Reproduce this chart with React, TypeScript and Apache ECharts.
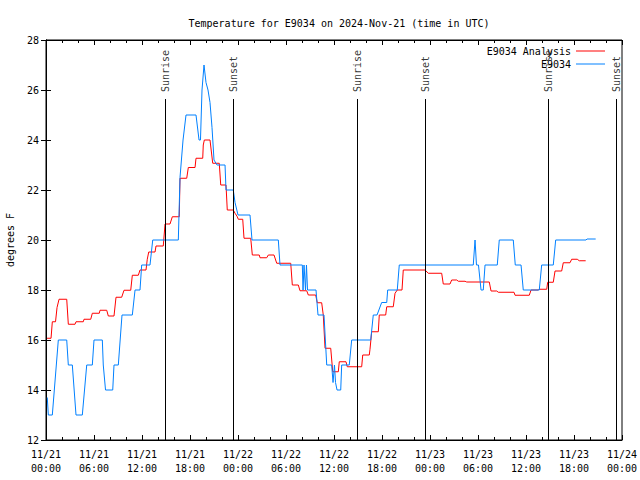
import React, { useEffect, useRef } from "react";
import * as echarts from "echarts";

// Hours since 2024-11-21 00:00 UTC
const obsHours = [0.16, 0.29, 0.79, 1.54, 2.59, 2.79, 3.29, 3.75, 4.54, 5.09, 5.79, 6.0, 7.04, 7.16, 7.44, 8.34, 8.5, 9.04, 9.5, 10.79, 11.13, 11.75, 11.96, 13.0, 13.34, 16.54, 16.75, 17.13, 17.5, 18.75, 19.13, 19.31, 19.5, 19.75, 20.0, 20.25, 20.5, 20.75, 21.0, 21.38, 22.38, 22.5, 23.41, 23.63, 24.0, 25.5, 25.75, 29.04, 29.25, 32.04, 32.13, 32.25, 32.44, 32.56, 32.69, 33.75, 34.0, 34.75, 35.09, 35.71, 35.88, 36.06, 36.19, 36.38, 36.84, 36.96, 37.91, 38.21, 40.59, 40.91, 41.38, 41.96, 42.59, 42.71, 43.91, 44.16, 53.41, 53.63, 53.81, 54.06, 54.38, 54.66, 54.88, 56.41, 56.66, 58.41, 58.66, 59.38, 59.66, 61.66, 61.96, 63.41, 63.71, 67.5, 67.63, 68.71];
const obsTemps = [13.7, 13, 13, 16, 16, 15, 15, 13, 13, 15, 15, 16, 16, 15, 14, 14, 15, 15, 17, 17, 18, 18, 19, 19, 20, 20, 22.5, 24, 25, 25, 24, 24, 26, 27, 26.3, 26, 25.5, 24.5, 23.2, 23, 23, 22, 22, 21.5, 21, 21, 20, 20, 19, 19, 18, 19, 18, 19, 18, 18, 17, 17, 15, 15, 14.3, 15, 14.3, 14, 14, 15, 15, 16, 16, 17, 17, 17.5, 17.5, 18, 18, 19, 19, 20, 19, 19, 18, 18, 19, 19, 20, 20, 19, 19, 18, 18, 19, 19, 20, 20, 20.04, 20.04];

const anaHours = [0.13, 0.63, 0.79, 1.19, 1.38, 1.63, 2.59, 2.79, 3.63, 3.75, 4.66, 4.75, 5.59, 5.79, 6.66, 6.75, 7.59, 7.79, 8.5, 8.75, 9.46, 9.75, 10.59, 10.79, 11.54, 11.75, 12.5, 12.66, 12.84, 13.63, 13.75, 14.66, 14.88, 15.5, 15.79, 16.66, 16.75, 17.59, 17.79, 18.63, 18.75, 19.59, 19.66, 19.79, 20.5, 20.84, 21.66, 21.84, 22.5, 22.66, 23.41, 23.63, 23.88, 24.04, 24.59, 24.75, 25.59, 25.79, 26.66, 26.75, 27.59, 27.79, 28.5, 28.84, 30.59, 30.79, 31.54, 31.75, 32.59, 32.79, 33.71, 33.91, 34.46, 34.66, 34.88, 35.59, 35.84, 36.54, 36.66, 37.5, 37.66, 39.46, 39.59, 40.41, 40.5, 40.71, 41.54, 41.66, 42.46, 42.59, 43.41, 43.63, 43.91, 44.5, 44.66, 47.38, 47.79, 49.46, 49.66, 50.5, 50.71, 51.34, 51.54, 52.38, 52.59, 55.41, 55.63, 56.34, 56.54, 58.5, 58.63, 60.41, 60.63, 61.54, 61.63, 62.59, 62.71, 63.41, 63.63, 64.46, 64.66, 65.5, 65.71, 66.41, 66.66, 67.46];
const anaTemps = [16.07, 16.07, 16.73, 16.73, 17.3, 17.63, 17.63, 16.63, 16.63, 16.73, 16.73, 16.83, 16.83, 17.07, 17.07, 17.19, 17.19, 16.96, 16.96, 17.71, 17.71, 17.99, 17.99, 18.59, 18.59, 18.8, 18.8, 19.23, 19.52, 19.52, 19.76, 19.76, 20.64, 20.64, 20.93, 20.93, 22.47, 22.47, 22.9, 22.9, 23.27, 23.27, 23.8, 24.0, 24.0, 23.07, 23.07, 22.2, 22.2, 21.2, 21.2, 21.07, 20.95, 20.83, 20.83, 20.07, 20.07, 19.4, 19.4, 19.29, 19.29, 19.4, 19.4, 19.07, 19.07, 18.2, 18.2, 17.97, 17.97, 17.8, 17.8, 17.49, 17.49, 17.0, 15.67, 15.67, 14.73, 14.73, 15.13, 15.13, 14.93, 14.93, 15.4, 15.4, 15.63, 16.33, 16.33, 17.0, 17.0, 17.33, 17.33, 17.87, 18.0, 18.0, 18.8, 18.8, 18.67, 18.67, 18.24, 18.24, 18.4, 18.4, 18.35, 18.35, 18.32, 18.32, 17.96, 17.96, 17.91, 17.91, 17.79, 17.79, 18.0, 18.0, 18.03, 18.03, 18.31, 18.31, 18.76, 18.76, 19.09, 19.09, 19.23, 19.23, 19.17, 19.17];

const sunriseHours = [14.92, 38.92, 62.8];
const sunsetHours = [23.41, 47.41, 71.3];

const xTickLabels = [
  "11/21\n00:00", "11/21\n06:00", "11/21\n12:00", "11/21\n18:00",
  "11/22\n00:00", "11/22\n06:00", "11/22\n12:00", "11/22\n18:00",
  "11/23\n00:00", "11/23\n06:00", "11/23\n12:00", "11/23\n18:00",
  "11/24\n00:00",
];

const FONT = "DejaVu Sans Mono";

export default function App() {
  const ref = useRef<HTMLDivElement>(null);
  useEffect(() => {
    if (!ref.current) return;
    const chart = echarts.init(ref.current, null, { renderer: "svg" });
    const eventLineTop = 25.64;
    const eventLabelY = 25.88;
    const events = [
      ...sunriseHours.map((t) => ({ t, name: "Sunrise" })),
      ...sunsetHours.map((t) => ({ t, name: "Sunset" })),
    ];
    const tickStyle = { show: true, inside: true, length: 5, lineStyle: { color: "#000" } };
    const minorStyle = { show: true, splitNumber: 3, length: 3, lineStyle: { color: "#000" } };
    chart.setOption({
      animation: false,
      backgroundColor: "#fff",
      title: {
        text: "Temperature for E9034 on 2024-Nov-21 (time in UTC)",
        left: 334,
        textAlign: "center",
        top: 13,
        textStyle: { fontFamily: FONT, fontSize: 10, fontWeight: "normal", color: "#000" },
      },
      legend: {
        data: ["E9034 Analysis", "E9034"],
        orient: "vertical",
        right: 30,
        top: 40,
        align: "right",
        icon: "rect",
        itemWidth: 29,
        itemHeight: 1,
        itemGap: 1,
        textStyle: { fontFamily: FONT, fontSize: 10, color: "#000", lineHeight: 12 },
      },
      grid: {
        left: 46,
        right: 18,
        top: 40,
        bottom: 40,
        show: true,
        borderColor: "#000",
        borderWidth: 1,
        containLabel: false,
        outerBoundsMode: "none",
      },
      xAxis: [
        {
          type: "value",
          min: 0,
          max: 72,
          interval: 6,
          axisLine: { show: true, lineStyle: { color: "#000" } },
          axisTick: tickStyle,
          minorTick: minorStyle,
          splitLine: { show: false },
          axisLabel: {
            fontFamily: FONT,
            fontSize: 10,
            color: "#000",
            lineHeight: 14,
            margin: 7,
            hideOverlap: false,
            formatter: (v: number) => xTickLabels[Math.round(v / 6)] ?? "",
          },
        },
        {
          type: "value",
          position: "top",
          min: 0,
          max: 72,
          interval: 6,
          axisLine: { show: true, lineStyle: { color: "#000" } },
          axisTick: tickStyle,
          minorTick: minorStyle,
          splitLine: { show: false },
          axisLabel: { show: false },
        },
      ],
      yAxis: [
        {
          type: "value",
          min: 12,
          max: 28,
          interval: 2,
          name: "degrees F",
          nameLocation: "middle",
          nameGap: 31,
          nameTextStyle: { fontFamily: FONT, fontSize: 10, color: "#000" },
          axisLine: { show: true, lineStyle: { color: "#000" } },
          axisTick: tickStyle,
          splitLine: { show: false },
          axisLabel: { fontFamily: FONT, fontSize: 10, color: "#000", margin: 7 },
        },
        {
          type: "value",
          position: "right",
          min: 12,
          max: 28,
          interval: 2,
          axisLine: { show: true, lineStyle: { color: "#000" } },
          axisTick: tickStyle,
          splitLine: { show: false },
          axisLabel: { show: false },
        },
      ],
      series: [
        {
          name: "events",
          type: "scatter",
          symbolSize: 1,
          itemStyle: { color: "rgba(0,0,0,0)" },
          silent: true,
          data: events.map((e) => ({ name: e.name, value: [e.t, eventLabelY] })),
          label: {
            show: true,
            formatter: "{b}",
            rotate: 90,
            position: "inside",
            align: "left",
            verticalAlign: "middle",
            offset: [1, 0],
            fontFamily: FONT,
            fontSize: 10,
            color: "#000",
          },
          markLine: {
            silent: true,
            symbol: ["none", "none"],
            label: { show: false },
            lineStyle: { color: "#000", width: 1, type: "solid" },
            data: events.map((e) => [{ coord: [e.t, 12] }, { coord: [e.t, eventLineTop] }]),
          },
        },
        {
          name: "E9034 Analysis",
          type: "line",
          showSymbol: false,
          color: "#ff0000",
          lineStyle: { width: 1, color: "#ff0000" },
          data: anaHours.map((h, i) => [h, anaTemps[i]]),
        },
        {
          name: "E9034",
          type: "line",
          showSymbol: false,
          color: "#0080ff",
          lineStyle: { width: 1, color: "#0080ff" },
          data: obsHours.map((h, i) => [h, obsTemps[i]]),
        },
      ],
    });
    return () => chart.dispose();
  }, []);
  return (
    <div
      ref={ref}
      style={{ position: "absolute", left: 0, top: 0, width: 640, height: 480 }}
    />
  );
}
